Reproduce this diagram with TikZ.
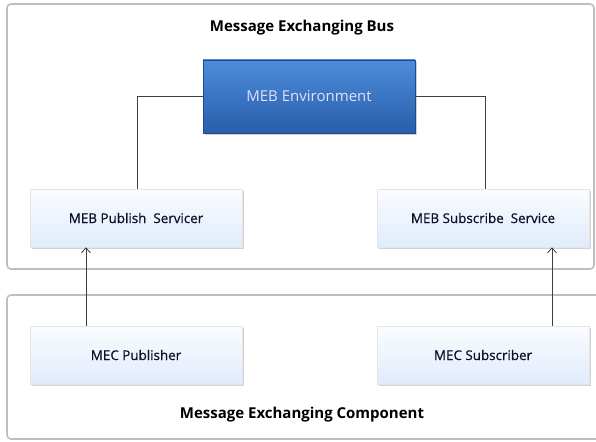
\documentclass[tikz,border=0pt]{standalone}
\usepackage{fontspec}
\setmainfont{Open Sans}
\usetikzlibrary{shadows,arrows.meta}
\definecolor{framegray}{RGB}{190,190,190}
\definecolor{boxtop}{RGB}{250,252,255}
\definecolor{boxbot}{RGB}{224,236,251}
\definecolor{envtop}{RGB}{78,140,218}
\definecolor{envbot}{RGB}{40,94,170}
\definecolor{textnavy}{RGB}{15,15,40}
\tikzset{
  container/.style={draw=framegray, line width=1.6pt, rounded corners=4pt, fill=white},
  svcbox/.style={rectangle, draw=white!80!gray, line width=0.6pt,
    top color=boxtop, bottom color=boxbot, minimum width=212pt, minimum height=58pt,
    drop shadow={shadow xshift=1.5pt, shadow yshift=-2pt, opacity=0.35},
    font=\fontsize{13.4}{16}\selectfont\addfontfeature{FakeBold=0.6}, text=textnavy, inner sep=0pt},
  envbox/.style={rectangle, draw=envbot!80!black, line width=0.6pt,
    top color=envtop, bottom color=envbot, minimum width=212pt, minimum height=73pt,
    drop shadow={shadow xshift=1.5pt, shadow yshift=-2pt, opacity=0.35},
    font=\fontsize{15}{18}\selectfont, text=white!88!blue, inner sep=0pt},
  title/.style={font=\bfseries\fontsize{15}{18}\selectfont, text=black},
  link/.style={draw=black!75, line width=0.8pt},
  push/.style={link, -{Straight Barb[length=5pt,width=9pt]}}
}
\begin{document}
\begin{tikzpicture}[x=1pt,y=-1pt]
  \useasboundingbox (0,0) rectangle (596,441);
  % two frames
  \draw[container] (7,4) rectangle (594,269);
  \draw[container] (7,295) rectangle (606,439);
  \node[title] (bustitle) at (302,28) {Message Exchanging Bus};
  \node[title] (comptitle) at (302,415) {Message Exchanging Component};
  % nodes
  \node[envbox] (env) at (309,96.5) {MEB Environment};
  \node[svcbox] (pubsvc) at (136,218) {MEB Publish\ \ Servicer};
  \node[svcbox] (subsvc) at (483,218) {MEB Subscribe\ \ Service};
  \node[svcbox] (pub) at (136,355) {MEC Publisher};
  \node[svcbox] (sub) at (483,355) {MEC Subscriber};
  % connectors
  \draw[link] (env.west) -| (pubsvc.north -| 137,0);
  \draw[link] (env.east) -| (subsvc.north -| 485,0);
  \draw[push] (pub.north -| 86,0) -- (pubsvc.south -| 86,0);
  \draw[push] (sub.north -| 552,0) -- (subsvc.south -| 552,0);
\end{tikzpicture}
\end{document}
